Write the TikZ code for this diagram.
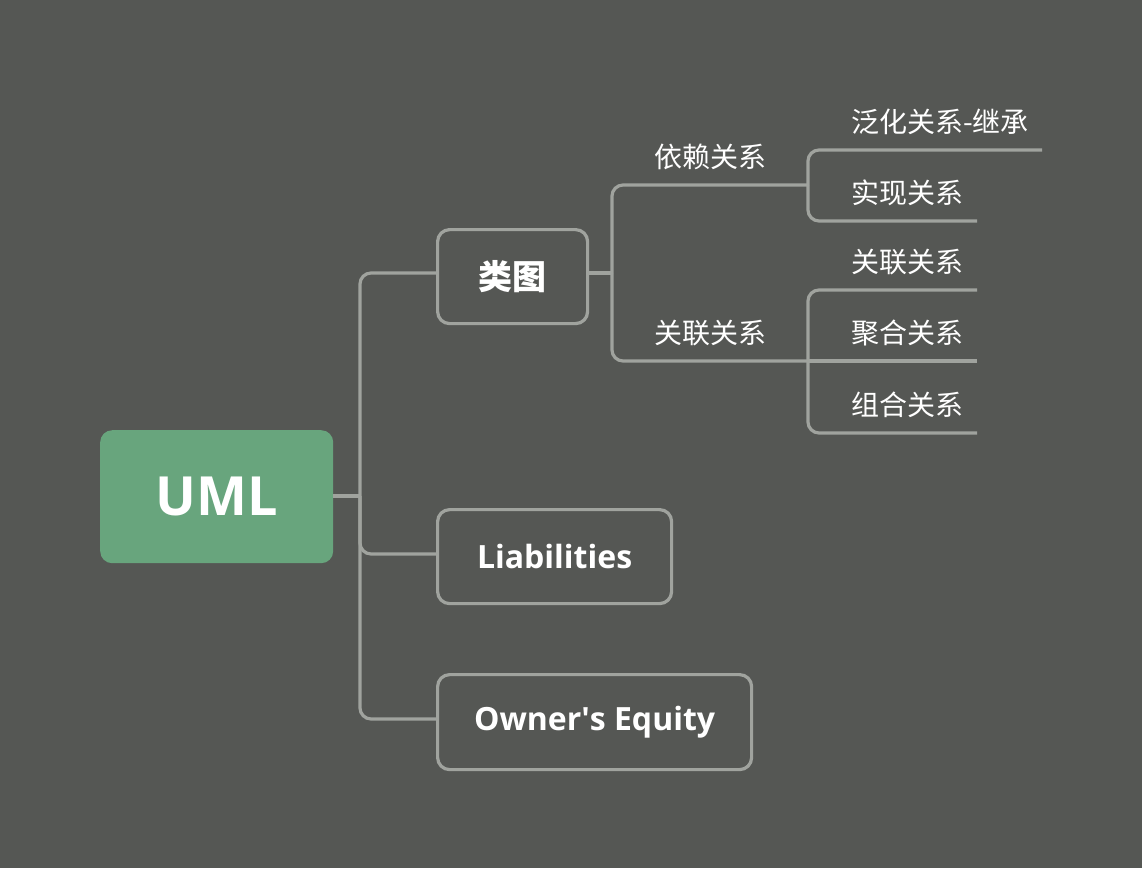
\documentclass[tikz,border=0pt]{standalone}
\usepackage{fontspec}
\setmainfont{Open Sans}
\newfontfamily\cjk{Noto Sans CJK SC}
\definecolor{bgc}{RGB}{85,87,84}
\definecolor{linec}{RGB}{160,163,158}
\definecolor{greenc}{RGB}{104,165,125}
\begin{document}
\begin{tikzpicture}[x=1pt,y=-1pt,
  conn/.style={draw=linec,line width=3.2pt,rounded corners=11pt},
  topic/.style={draw=linec,line width=3.2pt,rounded corners=12pt,text=white,inner sep=0pt,anchor=north west},
  leaf/.style={text=white,font=\cjk\fontsize{28}{32}\selectfont,inner sep=0pt}]
\fill[bgc] (0,0) rectangle (1142,868);
\useasboundingbox (0,0) rectangle (1142,868);
% root
\node[fill=greenc,rounded corners=12pt,minimum width=233pt,minimum height=133pt,anchor=north west,inner sep=0pt,text=white,font=\bfseries\fontsize{54}{60}\selectfont] (uml) at (100,430) {UML};
% main topics
\node[topic,minimum width=150pt,minimum height=94pt,font=\cjk\bfseries\fontsize{34}{40}\selectfont] (leitu) at (436,228) {类图};
\node[topic,minimum width=234pt,minimum height=94pt,font=\bfseries\fontsize{32}{40}\selectfont] (liab) at (436,508) {Liabilities};
\node[topic,minimum width=314pt,minimum height=95pt,font=\bfseries\fontsize{32}{40}\selectfont] (owner) at (436,673) {Owner\textquotesingle s Equity};
% junctions
\coordinate (j1) at (360,496);
\coordinate (j2) at (612,273);
\draw[conn] (uml.east |- j1) -- (j1);
\draw[conn] (j1) |- (leitu.west |- 0,273);
\draw[conn] (j1) |- (liab.west |- 0,554);
\draw[conn] (j1) |- (owner.west |- 0,719);
\draw[conn] (leitu.east |- j2) -- (j2);
% sub topics
\coordinate (yl) at (808,185);
\coordinate (gl) at (808,361);
\node[leaf] (yltext) at (710,157) {依赖关系};
\node[leaf] (gltext) at (710,333) {关联关系};
\draw[conn] (j2) |- (yl);
\draw[conn] (j2) |- (gl);
% leaves
\coordinate (fhEnd) at (1042,150);
\coordinate (sxEnd) at (977,221);
\coordinate (gl2End) at (977,290);
\coordinate (jhEnd) at (977,361);
\coordinate (zhEnd) at (977,433);
\node[leaf,anchor=west] (fh) at (851,122) {泛化关系-继承};
\node[leaf,anchor=west] (sx) at (851,193) {实现关系};
\node[leaf,anchor=west] (gl2) at (851,262) {关联关系};
\node[leaf,anchor=west] (jh) at (851,333) {聚合关系};
\node[leaf,anchor=west] (zh) at (851,405) {组合关系};
\draw[conn] (yl) |- (fhEnd);
\draw[conn] (yl) |- (sxEnd);
\draw[conn] (gl) |- (gl2End);
\draw[conn] (gl) -- (jhEnd);
\draw[conn] (gl) |- (zhEnd);
\end{tikzpicture}
\end{document}
